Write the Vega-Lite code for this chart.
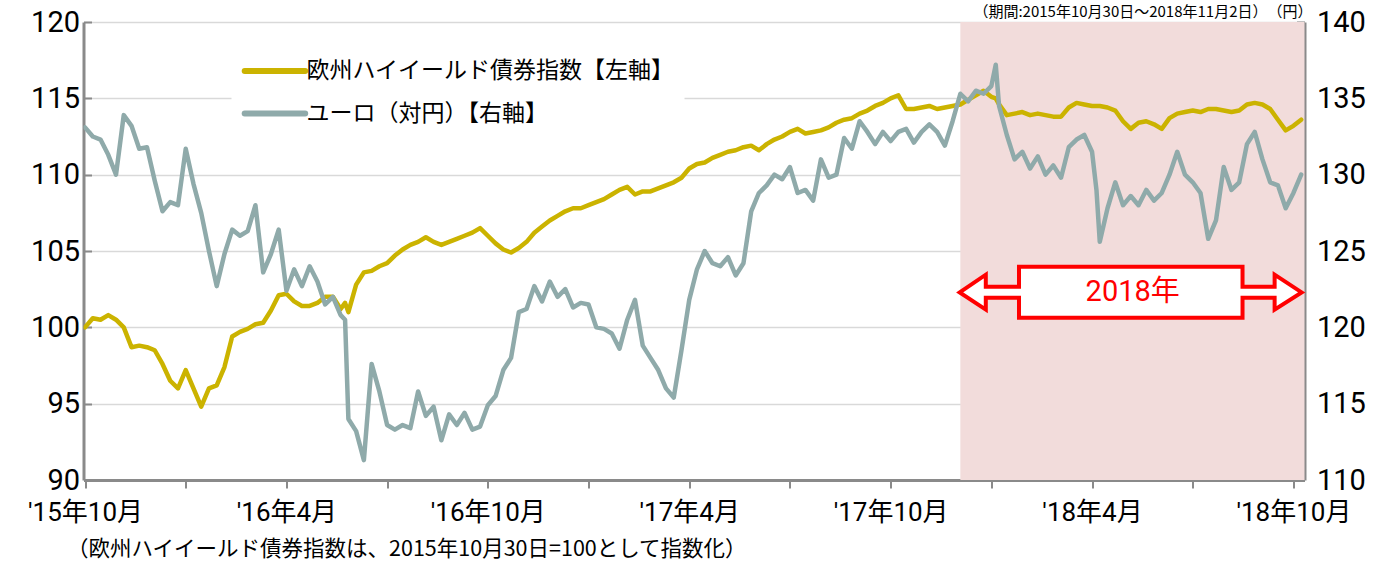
{
  "$schema": "https://vega.github.io/schema/vega-lite/v6.json",
  "width": 1221,
  "height": 458,
  "autosize": {"type": "none"},
  "padding": {"left": 83.5, "top": 22, "right": 68, "bottom": 81},
  "background": "white",
  "title": {
    "text": "（期間:2015年10月30日～2018年11月2日）　（円）",
    "anchor": "end",
    "frame": "group",
    "orient": "top",
    "offset": -27,
    "baseline": "bottom",
    "dx": 8,
    "font": "Noto Sans CJK JP",
    "fontSize": 15,
    "fontWeight": "normal",
    "color": "#000000"
  },
  "config": {
    "view": {"stroke": null},
    "font": "Noto Sans CJK JP"
  },
  "datasets": {
    "series": [
      {"date": "2015-10-30", "hy": 100.0, "eur": 133.1},
      {"date": "2015-11-06", "hy": 100.6, "eur": 132.5},
      {"date": "2015-11-13", "hy": 100.5, "eur": 132.3},
      {"date": "2015-11-20", "hy": 100.8, "eur": 131.3},
      {"date": "2015-11-27", "hy": 100.5, "eur": 130.0},
      {"date": "2015-12-04", "hy": 100.0, "eur": 133.9},
      {"date": "2015-12-11", "hy": 98.7, "eur": 133.2},
      {"date": "2015-12-18", "hy": 98.8, "eur": 131.7},
      {"date": "2015-12-25", "hy": 98.7, "eur": 131.8},
      {"date": "2016-01-01", "hy": 98.5, "eur": 129.6},
      {"date": "2016-01-08", "hy": 97.6, "eur": 127.6},
      {"date": "2016-01-15", "hy": 96.5, "eur": 128.2},
      {"date": "2016-01-22", "hy": 96.0, "eur": 128.0},
      {"date": "2016-01-29", "hy": 97.2, "eur": 131.7},
      {"date": "2016-02-05", "hy": 96.0, "eur": 129.4},
      {"date": "2016-02-12", "hy": 94.8, "eur": 127.5},
      {"date": "2016-02-19", "hy": 96.0, "eur": 125.0},
      {"date": "2016-02-26", "hy": 96.2, "eur": 122.7},
      {"date": "2016-03-04", "hy": 97.4, "eur": 124.8},
      {"date": "2016-03-11", "hy": 99.4, "eur": 126.4},
      {"date": "2016-03-18", "hy": 99.7, "eur": 126.0},
      {"date": "2016-03-25", "hy": 99.9, "eur": 126.3},
      {"date": "2016-04-01", "hy": 100.2, "eur": 128.0},
      {"date": "2016-04-08", "hy": 100.3, "eur": 123.6},
      {"date": "2016-04-15", "hy": 101.1, "eur": 124.8},
      {"date": "2016-04-22", "hy": 102.1, "eur": 126.4},
      {"date": "2016-04-29", "hy": 102.2, "eur": 122.4},
      {"date": "2016-05-06", "hy": 101.7, "eur": 123.8},
      {"date": "2016-05-13", "hy": 101.4, "eur": 122.7},
      {"date": "2016-05-20", "hy": 101.4, "eur": 124.0},
      {"date": "2016-05-27", "hy": 101.6, "eur": 123.0},
      {"date": "2016-06-03", "hy": 102.0, "eur": 121.5},
      {"date": "2016-06-10", "hy": 102.0, "eur": 122.0},
      {"date": "2016-06-17", "hy": 101.2, "eur": 120.8},
      {"date": "2016-06-21", "hy": 101.6, "eur": 120.5},
      {"date": "2016-06-24", "hy": 101.0, "eur": 114.0},
      {"date": "2016-07-01", "hy": 102.8, "eur": 113.2},
      {"date": "2016-07-08", "hy": 103.6, "eur": 111.3},
      {"date": "2016-07-15", "hy": 103.7, "eur": 117.6},
      {"date": "2016-07-22", "hy": 104.0, "eur": 115.8},
      {"date": "2016-07-29", "hy": 104.2, "eur": 113.6},
      {"date": "2016-08-05", "hy": 104.7, "eur": 113.3},
      {"date": "2016-08-12", "hy": 105.1, "eur": 113.6},
      {"date": "2016-08-19", "hy": 105.4, "eur": 113.4},
      {"date": "2016-08-26", "hy": 105.6, "eur": 115.8},
      {"date": "2016-09-02", "hy": 105.9, "eur": 114.2},
      {"date": "2016-09-09", "hy": 105.6, "eur": 114.8},
      {"date": "2016-09-16", "hy": 105.4, "eur": 112.6},
      {"date": "2016-09-23", "hy": 105.6, "eur": 114.3},
      {"date": "2016-09-30", "hy": 105.8, "eur": 113.6},
      {"date": "2016-10-07", "hy": 106.0, "eur": 114.4},
      {"date": "2016-10-14", "hy": 106.2, "eur": 113.3},
      {"date": "2016-10-21", "hy": 106.5, "eur": 113.5},
      {"date": "2016-10-28", "hy": 106.0, "eur": 114.9},
      {"date": "2016-11-04", "hy": 105.5, "eur": 115.5},
      {"date": "2016-11-11", "hy": 105.1, "eur": 117.2},
      {"date": "2016-11-18", "hy": 104.9, "eur": 118.0},
      {"date": "2016-11-25", "hy": 105.2, "eur": 121.0},
      {"date": "2016-12-02", "hy": 105.6, "eur": 121.2},
      {"date": "2016-12-09", "hy": 106.2, "eur": 122.7},
      {"date": "2016-12-16", "hy": 106.6, "eur": 121.7},
      {"date": "2016-12-23", "hy": 107.0, "eur": 123.0},
      {"date": "2016-12-30", "hy": 107.3, "eur": 122.0},
      {"date": "2017-01-06", "hy": 107.6, "eur": 122.5},
      {"date": "2017-01-13", "hy": 107.8, "eur": 121.3},
      {"date": "2017-01-20", "hy": 107.8, "eur": 121.6},
      {"date": "2017-01-27", "hy": 108.0, "eur": 121.5},
      {"date": "2017-02-03", "hy": 108.2, "eur": 120.0},
      {"date": "2017-02-10", "hy": 108.4, "eur": 119.9},
      {"date": "2017-02-17", "hy": 108.7, "eur": 119.6},
      {"date": "2017-02-24", "hy": 109.0, "eur": 118.6},
      {"date": "2017-03-03", "hy": 109.2, "eur": 120.5},
      {"date": "2017-03-10", "hy": 108.7, "eur": 121.8},
      {"date": "2017-03-17", "hy": 108.9, "eur": 118.8},
      {"date": "2017-03-24", "hy": 108.9, "eur": 118.0},
      {"date": "2017-03-31", "hy": 109.1, "eur": 117.2},
      {"date": "2017-04-07", "hy": 109.3, "eur": 116.0},
      {"date": "2017-04-14", "hy": 109.5, "eur": 115.4},
      {"date": "2017-04-21", "hy": 109.8, "eur": 118.5},
      {"date": "2017-04-28", "hy": 110.4, "eur": 121.8},
      {"date": "2017-05-05", "hy": 110.7, "eur": 123.8},
      {"date": "2017-05-12", "hy": 110.8, "eur": 125.0},
      {"date": "2017-05-19", "hy": 111.1, "eur": 124.2},
      {"date": "2017-05-26", "hy": 111.3, "eur": 124.0},
      {"date": "2017-06-02", "hy": 111.5, "eur": 124.6},
      {"date": "2017-06-09", "hy": 111.6, "eur": 123.4},
      {"date": "2017-06-16", "hy": 111.8, "eur": 124.2},
      {"date": "2017-06-23", "hy": 111.9, "eur": 127.6},
      {"date": "2017-06-30", "hy": 111.6, "eur": 128.8},
      {"date": "2017-07-07", "hy": 112.0, "eur": 129.3},
      {"date": "2017-07-14", "hy": 112.3, "eur": 130.0},
      {"date": "2017-07-21", "hy": 112.5, "eur": 129.7},
      {"date": "2017-07-28", "hy": 112.8, "eur": 130.5},
      {"date": "2017-08-04", "hy": 113.0, "eur": 128.8},
      {"date": "2017-08-11", "hy": 112.7, "eur": 129.0},
      {"date": "2017-08-18", "hy": 112.8, "eur": 128.3},
      {"date": "2017-08-25", "hy": 112.9, "eur": 131.0},
      {"date": "2017-09-01", "hy": 113.1, "eur": 129.8},
      {"date": "2017-09-08", "hy": 113.4, "eur": 130.0},
      {"date": "2017-09-15", "hy": 113.6, "eur": 132.4},
      {"date": "2017-09-22", "hy": 113.7, "eur": 131.7},
      {"date": "2017-09-29", "hy": 114.0, "eur": 133.5},
      {"date": "2017-10-06", "hy": 114.2, "eur": 132.8},
      {"date": "2017-10-13", "hy": 114.5, "eur": 132.0},
      {"date": "2017-10-20", "hy": 114.7, "eur": 132.8},
      {"date": "2017-10-27", "hy": 115.0, "eur": 132.2},
      {"date": "2017-11-03", "hy": 115.2, "eur": 132.8},
      {"date": "2017-11-10", "hy": 114.3, "eur": 133.0},
      {"date": "2017-11-17", "hy": 114.3, "eur": 132.1},
      {"date": "2017-11-24", "hy": 114.4, "eur": 132.8},
      {"date": "2017-12-01", "hy": 114.5, "eur": 133.3},
      {"date": "2017-12-08", "hy": 114.3, "eur": 132.8},
      {"date": "2017-12-15", "hy": 114.4, "eur": 131.9},
      {"date": "2017-12-22", "hy": 114.5, "eur": 133.5},
      {"date": "2017-12-29", "hy": 114.6, "eur": 135.3},
      {"date": "2018-01-05", "hy": 114.9, "eur": 134.8},
      {"date": "2018-01-12", "hy": 115.2, "eur": 135.5},
      {"date": "2018-01-19", "hy": 115.5, "eur": 135.3},
      {"date": "2018-01-26", "hy": 115.1, "eur": 135.8},
      {"date": "2018-01-30", "hy": 115.0, "eur": 137.2},
      {"date": "2018-02-02", "hy": 114.6, "eur": 134.5},
      {"date": "2018-02-09", "hy": 113.9, "eur": 132.6},
      {"date": "2018-02-16", "hy": 114.0, "eur": 131.0},
      {"date": "2018-02-23", "hy": 114.1, "eur": 131.5},
      {"date": "2018-03-02", "hy": 113.9, "eur": 130.4},
      {"date": "2018-03-09", "hy": 114.0, "eur": 131.2},
      {"date": "2018-03-16", "hy": 113.9, "eur": 130.0},
      {"date": "2018-03-23", "hy": 113.8, "eur": 130.6},
      {"date": "2018-03-30", "hy": 113.8, "eur": 129.8},
      {"date": "2018-04-06", "hy": 114.4, "eur": 131.8},
      {"date": "2018-04-13", "hy": 114.7, "eur": 132.3},
      {"date": "2018-04-20", "hy": 114.6, "eur": 132.6},
      {"date": "2018-04-27", "hy": 114.5, "eur": 131.5},
      {"date": "2018-05-01", "hy": 114.5, "eur": 129.0},
      {"date": "2018-05-04", "hy": 114.5, "eur": 125.6},
      {"date": "2018-05-11", "hy": 114.4, "eur": 127.8},
      {"date": "2018-05-18", "hy": 114.2, "eur": 129.5},
      {"date": "2018-05-25", "hy": 113.5, "eur": 128.0},
      {"date": "2018-06-01", "hy": 113.0, "eur": 128.6},
      {"date": "2018-06-08", "hy": 113.4, "eur": 128.0},
      {"date": "2018-06-15", "hy": 113.5, "eur": 129.0},
      {"date": "2018-06-22", "hy": 113.3, "eur": 128.3},
      {"date": "2018-06-29", "hy": 113.0, "eur": 128.8},
      {"date": "2018-07-06", "hy": 113.7, "eur": 130.0},
      {"date": "2018-07-13", "hy": 114.0, "eur": 131.5},
      {"date": "2018-07-20", "hy": 114.1, "eur": 130.0},
      {"date": "2018-07-27", "hy": 114.2, "eur": 129.5},
      {"date": "2018-08-03", "hy": 114.1, "eur": 128.8},
      {"date": "2018-08-10", "hy": 114.3, "eur": 125.8},
      {"date": "2018-08-17", "hy": 114.3, "eur": 127.0},
      {"date": "2018-08-24", "hy": 114.2, "eur": 130.5},
      {"date": "2018-08-31", "hy": 114.1, "eur": 129.0},
      {"date": "2018-09-07", "hy": 114.2, "eur": 129.5},
      {"date": "2018-09-14", "hy": 114.6, "eur": 132.0},
      {"date": "2018-09-21", "hy": 114.7, "eur": 132.8},
      {"date": "2018-09-28", "hy": 114.6, "eur": 131.0},
      {"date": "2018-10-05", "hy": 114.3, "eur": 129.5},
      {"date": "2018-10-12", "hy": 113.6, "eur": 129.3},
      {"date": "2018-10-19", "hy": 112.9, "eur": 127.8},
      {"date": "2018-10-26", "hy": 113.2, "eur": 128.8},
      {"date": "2018-11-02", "hy": 113.6, "eur": 130.0}
    ],
    "shade": [{"start": "2017-12-29", "end": "2018-11-05"}],
    "arrow": [
      {"date": "2017-12-28T10:00:00Z", "top": 102.29, "bottom": 102.29},
      {"date": "2018-01-21T00:00:00Z", "top": 103.45, "bottom": 101.16},
      {"date": "2018-01-21T00:00:00Z", "top": 102.66, "bottom": 101.94},
      {"date": "2018-02-20T00:00:00Z", "top": 102.66, "bottom": 101.94},
      {"date": "2018-02-20T00:00:00Z", "top": 103.97, "bottom": 100.63},
      {"date": "2018-09-10T00:00:00Z", "top": 103.97, "bottom": 100.63},
      {"date": "2018-09-10T00:00:00Z", "top": 102.66, "bottom": 101.94},
      {"date": "2018-10-09T00:00:00Z", "top": 102.66, "bottom": 101.94},
      {"date": "2018-10-09T00:00:00Z", "top": 103.45, "bottom": 101.16},
      {"date": "2018-11-02T10:00:00Z", "top": 102.29, "bottom": 102.29}
    ],
    "note": [{"date": "2018-06-02T18:00:00Z", "value": 102.29, "label": "2018年"}]
  },
  "layer": [
    {
      "layer": [
        {
          "data": {"name": "shade"},
          "mark": {"type": "rect", "color": "#f2dcdb"},
          "encoding": {
            "x": {"field": "start", "type": "temporal"},
            "x2": {"field": "end"},
            "y": {"datum": 90, "type": "quantitative"},
            "y2": {"datum": 120}
          }
        },
        {
          "data": {"name": "series"},
          "mark": {"type": "line", "strokeWidth": 4.5, "strokeJoin": "round", "strokeCap": "round", "clip": true},
          "encoding": {
            "x": {
              "field": "date",
              "type": "temporal",
              "scale": {
                "type": "utc",
                "domain": [
                  {"year": 2015, "month": 10, "date": 28, "hours": 15, "utc": true},
                  {"year": 2018, "month": 11, "date": 5, "utc": true}
                ]
              },
              "axis": {
                "values": [
                  {"year": 2015, "month": 10, "date": 30, "utc": true},
                  {"year": 2016, "month": 1, "date": 29, "utc": true},
                  {"year": 2016, "month": 4, "date": 29, "utc": true},
                  {"year": 2016, "month": 7, "date": 29, "utc": true},
                  {"year": 2016, "month": 10, "date": 28, "utc": true},
                  {"year": 2017, "month": 1, "date": 27, "utc": true},
                  {"year": 2017, "month": 4, "date": 28, "utc": true},
                  {"year": 2017, "month": 7, "date": 28, "utc": true},
                  {"year": 2017, "month": 10, "date": 27, "utc": true},
                  {"year": 2018, "month": 1, "date": 26, "utc": true},
                  {"year": 2018, "month": 4, "date": 27, "utc": true},
                  {"year": 2018, "month": 7, "date": 27, "utc": true},
                  {"year": 2018, "month": 10, "date": 26, "utc": true}
                ],
                "labelExpr": "utcmonth(datum.value) % 6 == 3 ? \"'\" + utcFormat(datum.value, '%y') + '年' + (utcmonth(datum.value) + 1) + '月' : ''",
                "labelFont": "Roboto, Noto Sans CJK JP",
                "labelFontSize": 26,
                "labelColor": "#000000",
                "labelPadding": 11,
                "labelOverlap": false,
                "labelFlush": false,
                "grid": false,
                "domainColor": "#8a8a8a",
                "domainWidth": 3,
                "tickColor": "#8a8a8a",
                "tickWidth": 2,
                "tickSize": 8,
                "encode": {
                  "ticks": {
                    "update": {
                      "y": [{"test": "utcmonth(datum.value) % 6 == 3", "value": -7}, {"value": 0}]
                    }
                  }
                },
                "title": "（欧州ハイイールド債券指数は、2015年10月30日=100として指数化）",
                "titleFont": "Noto Sans CJK JP",
                "titleFontSize": 21.5,
                "titleFontWeight": "normal",
                "titleColor": "#000000",
                "titleAnchor": "start",
                "titleAlign": "left",
                "titleBaseline": "alphabetic",
                "titleX": -17,
                "titleY": 75
              }
            },
            "y": {
              "field": "hy",
              "type": "quantitative",
              "scale": {"domain": [90, 120], "zero": false, "nice": false},
              "axis": {
                "orient": "left",
                "values": [90, 95, 100, 105, 110, 115, 120],
                "grid": true,
                "gridColor": "#d9d9d9",
                "gridWidth": 1.5,
                "domainColor": "#8a8a8a",
                "domainWidth": 3,
                "tickColor": "#8a8a8a",
                "tickWidth": 2,
                "tickSize": -8,
                "labelFont": "Roboto",
                "labelFontSize": 29,
                "labelColor": "#000000",
                "labelPadding": 12,
                "title": null
              }
            },
            "color": {
              "datum": "欧州ハイイールド債券指数【左軸】",
              "scale": {
                "domain": ["欧州ハイイールド債券指数【左軸】", "ユーロ（対円）【右軸】"],
                "range": ["#cbb300", "#8faaaa"]
              },
              "legend": {
                "orient": "none",
                "legendX": 148,
                "legendY": 19,
                "title": null,
                "fillColor": "white",
                "padding": 10,
                "symbolType": "M-1,0H2.6",
                "symbolSize": 1130,
                "symbolStrokeWidth": 6,
                "labelFont": "Noto Sans CJK JP",
                "labelFontSize": 23,
                "labelColor": "#000000",
                "labelOffset": 25,
                "labelLimit": 0,
                "rowPadding": 10.5,
                "encode": {"symbols": {"update": {"strokeCap": {"value": "round"}}}}
              }
            }
          }
        },
        {
          "data": {"name": "arrow"},
          "mark": {"type": "area", "fill": "white", "stroke": "#ff0000", "strokeWidth": 4, "strokeJoin": "miter", "clip": false},
          "encoding": {
            "x": {"field": "date", "type": "temporal"},
            "y": {"field": "top", "type": "quantitative"},
            "y2": {"field": "bottom"}
          }
        },
        {
          "data": {"name": "note"},
          "mark": {"type": "text", "color": "#ff0000", "font": "Roboto, Noto Sans CJK JP", "fontSize": 29, "align": "center", "baseline": "middle"},
          "encoding": {
            "x": {"field": "date", "type": "temporal"},
            "y": {"field": "value", "type": "quantitative"},
            "text": {"field": "label"}
          }
        }
      ]
    },
    {
      "data": {"name": "series"},
      "mark": {"type": "line", "strokeWidth": 4.5, "strokeJoin": "round", "strokeCap": "round", "clip": true},
      "encoding": {
        "x": {"field": "date", "type": "temporal"},
        "y": {
          "field": "eur",
          "type": "quantitative",
          "scale": {"domain": [110, 140], "zero": false, "nice": false},
          "axis": {
            "orient": "right",
            "values": [110, 115, 120, 125, 130, 135, 140],
            "grid": false,
            "domainColor": "#8a8a8a",
            "domainWidth": 3,
            "tickColor": "#8a8a8a",
            "tickWidth": 2,
            "tickSize": -8,
            "labelFont": "Roboto",
            "labelFontSize": 29,
            "labelColor": "#000000",
            "labelPadding": 20,
            "title": null
          }
        },
        "color": {"datum": "ユーロ（対円）【右軸】"}
      }
    }
  ],
  "resolve": {"scale": {"y": "independent"}}
}
